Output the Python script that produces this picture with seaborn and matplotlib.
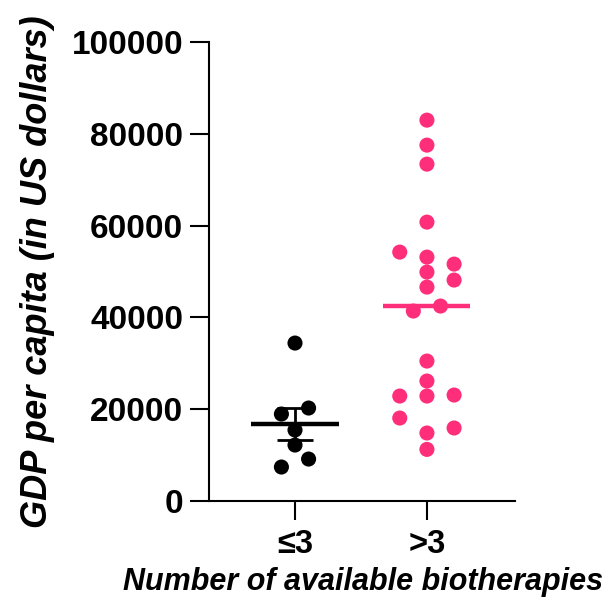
import numpy as np
import pandas as pd
import matplotlib
matplotlib.use('Agg')
import matplotlib.pyplot as plt
import seaborn as sns

# data
groups = ['≤3', '>3']
low_gdp = [34400, 20250, 18940, 15460, 12190, 9140, 7400]
low_slot = [0, 1, -1, 0, 0, 1, -1]
high_gdp = [82950, 77510, 73370, 60740, 54210, 53120, 51600, 49860, 48120, 46590,
            42460, 41370, 30480, 26130, 22860, 22860, 23080, 18070, 14810, 15900, 11240]
high_slot = [0, 0, 0, 0, -2, 0, 2, 0, 2, 0,
             1, -1, 0, 0, -2, 0, 2, -2, 0, 2, 0]
y_ticks = [0, 20000, 40000, 60000, 80000, 100000]

colors = {'≤3': 'black', '>3': '#FF2E7B'}

sns.set_style('ticks')
plt.rcParams['font.family'] = ['Liberation Sans', 'DejaVu Sans']
plt.rcParams['font.weight'] = 'bold'
plt.rcParams['text.color'] = 'black'
plt.rcParams['axes.labelcolor'] = 'black'
plt.rcParams['xtick.color'] = 'black'
plt.rcParams['ytick.color'] = 'black'

df = pd.DataFrame({
    'group': [groups[0]] * len(low_gdp) + [groups[1]] * len(high_gdp),
    'gdp': low_gdp + high_gdp,
    'slot': low_slot + high_slot,
})
df['x'] = df['group'].map({g: i for i, g in enumerate(groups)}) + df['slot'] * 0.103

fig = plt.figure(figsize=(6.07, 5.98), dpi=100)
ax = fig.add_axes([0.3443, 0.1622, 0.504, 0.7678])

sns.scatterplot(data=df, x='x', y='gdp', hue='group', palette=colors, s=118,
                linewidth=0, legend=False, ax=ax, zorder=3)

#black group: mean +- SEM, pink group: median line
lo = np.array(low_gdp)
m = lo.mean()
sem = lo.std(ddof=1) / np.sqrt(len(lo))
ax.hlines(m, -0.33, 0.33, color='black', lw=3.2, zorder=4)
ax.vlines(0, m - sem, m + sem, color='black', lw=2.0, zorder=4)
ax.hlines([m - sem, m + sem], -0.137, 0.137, color='black', lw=2.0, zorder=4)
ax.hlines(np.median(high_gdp), 1 - 0.33, 1 + 0.33, color=colors['>3'], lw=3.2, zorder=2)

ax.set_xlim(-0.652, 1.667)
ax.set_ylim(0, 100000)
ax.set_yticks(y_ticks)
ax.set_yticklabels([str(t) for t in y_ticks], fontsize=24, fontweight='bold')
ax.set_xticks([0, 1])
ax.set_xticklabels(groups, fontsize=23.5, fontweight='bold')
ax.tick_params(axis='both', length=13.5, width=1.5, color='black')
ax.tick_params(axis='y', pad=5)
ax.tick_params(axis='x', pad=7)
for s in ['left', 'bottom']:
    ax.spines[s].set_linewidth(1.5)
    ax.spines[s].set_color('black')
sns.despine(ax=ax)

ax.set_xlabel('Number of available biotherapies', fontsize=22, fontweight='bold', style='italic')
ax.set_ylabel('GDP per capita (in US dollars)', fontsize=26, fontweight='bold', style='italic')
ax.xaxis.set_label_coords(0.503, -0.144)
ax.yaxis.set_label_coords(-0.503, 0.499)

fig.savefig('out.png', dpi=100)
